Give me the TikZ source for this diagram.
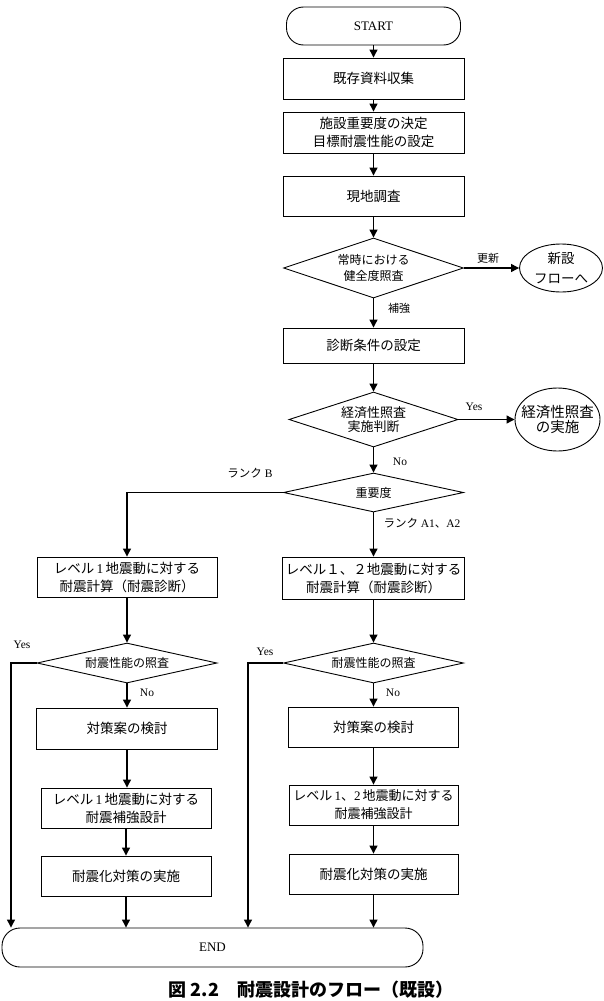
\documentclass[tikz,border=0pt]{standalone}
\usepackage{fontspec}
\setmainfont{Liberation Serif}
\newfontfamily\cjk{Noto Sans CJK JP}
\usetikzlibrary{shapes.geometric,arrows.meta}

\tikzset{
  box/.style={draw, line width=0.9pt, inner sep=0pt, align=center,
    font=\cjk\fontsize{13.5}{18}\selectfont},
  dia/.style={diamond, draw, line width=0.9pt, inner sep=0pt, align=center,
    font=\cjk\fontsize{12}{15.5}\selectfont},
  ell/.style={ellipse, draw, line width=0.9pt, inner sep=0pt, align=center,
    font=\cjk\fontsize{13.5}{20}\selectfont},
  term/.style={draw, rounded corners=17pt, line width=0.9pt, inner sep=0pt,
    font=\fontsize{13}{15}\selectfont},
  lbl/.style={inner sep=0pt, font=\fontsize{11.5}{13}\selectfont},
  jlbl/.style={inner sep=0pt, font=\cjk\fontsize{11}{13}\selectfont},
  arr/.style={line width=1.2pt, -{Triangle[length=8pt,width=8pt]}},
}

\begin{document}
\begin{tikzpicture}[x=1pt,y=-1pt]
\useasboundingbox (0,0) rectangle (603,1001);

% main column
\node[term, minimum width=174pt, minimum height=38pt] (start) at (373.5,26) {START};
\node[box, minimum width=181pt, minimum height=41pt] (b1) at (373.5,78.5) {既存資料収集};
\node[box, minimum width=181pt, minimum height=41pt] (b2) at (373.5,132.5) {施設重要度の決定\\目標耐震性能の設定};
\node[box, minimum width=181pt, minimum height=40pt] (b3) at (373.5,196) {現地調査};
\node[dia, minimum width=180pt, minimum height=60pt, aspect=3] (d1) at (373.5,268) {常時における\\健全度照査};
\node[ell, minimum width=83pt, minimum height=48pt] (e1) at (561,268) {\makebox[20pt]{新設}\\\makebox[20pt]{フローへ}};
\node[box, minimum width=181pt, minimum height=35pt] (b4) at (373.5,345.5) {診断条件の設定};
\node[dia, minimum width=169pt, minimum height=55pt, aspect=3.07,
  font=\cjk\fontsize{13}{13.5}\selectfont] (d2) at (373.5,419.5) {経済性照査\\実施判断};
\node[ell, minimum width=85pt, minimum height=63pt,
  font=\cjk\fontsize{14.5}{15}\selectfont] (e2) at (557.5,419.5) {\makebox[20pt]{経済性照査}\\\makebox[20pt]{の実施}};
\node[dia, minimum width=180pt, minimum height=39pt, aspect=4.6] (d3) at (373.5,492.5) {重要度};

% left column
\node[box, minimum width=180pt, minimum height=40pt] (l1) at (127,577) {レベル{\rmfamily\,1\,}地震動に対する\\耐震計算（耐震診断）};
\node[dia, minimum width=180pt, minimum height=40pt, aspect=4.5] (l2) at (127,663) {耐震性能の照査};
\node[box, minimum width=181pt, minimum height=41pt] (l3) at (127,728.5) {対策案の検討};
\node[box, minimum width=170pt, minimum height=40pt] (l4) at (126,808) {レベル{\rmfamily\,1\,}地震動に対する\\耐震補強設計};
\node[box, minimum width=170pt, minimum height=40pt] (l5) at (126,876) {耐震化対策の実施};

% right column
\node[box, minimum width=182pt, minimum height=42pt] (r1) at (373.5,578) {レベル１、２地震動に対する\\耐震計算（耐震診断）};
\node[dia, minimum width=180pt, minimum height=40pt, aspect=4.5] (r2) at (373.5,663) {耐震性能の照査};
\node[box, minimum width=170pt, minimum height=40pt] (r3) at (373.5,727) {対策案の検討};
\node[box, minimum width=169pt, minimum height=40pt,
  font=\cjk\fontsize{13}{18}\selectfont] (r4) at (373.5,805) {レベル{\rmfamily\,1}、{\rmfamily 2\,}地震動に対する\\耐震補強設計};
\node[box, minimum width=169pt, minimum height=40pt] (r5) at (373.5,874) {耐震化対策の実施};

% end
\node[term, rounded corners=18pt, minimum width=421pt, minimum height=39pt] (end) at (212.5,947.5) {END};

% labels
\node[jlbl] (t-kos) at (488,258) {更新};
\node[jlbl] (t-hok) at (399,308) {補強};
\node[lbl] (t-yes1) at (474,407) {Yes};
\node[lbl] (t-no1) at (400,462) {No};
\node[lbl] (t-rb) at (250,473) {{\cjk ランク} B};
\node[lbl] (t-ra) at (422,523) {{\cjk ランク} A1{\cjk 、}A2};
\node[lbl] (t-yes2) at (22,645) {Yes};
\node[lbl] (t-yes3) at (265,652) {Yes};
\node[lbl] (t-no2) at (147,693) {No};
\node[lbl] (t-no3) at (393,693) {No};

% caption
\node[inner sep=0pt, font=\cjk\bfseries\fontsize{18}{20}\selectfont] (cap) at (311,990) {図 2.2　耐震設計のフロー（既設）};

% bend columns
\coordinate (lx) at (11,0);
\coordinate (rx) at (248,0);

% connectors
\draw[arr] (start.south) -- (start.south |- b1.north);
\draw[arr] (b1.south) -- (b1.south |- b2.north);
\draw[arr] (b2.south) -- (b2.south |- b3.north);
\draw[arr] (b3.south) -- (b3.south |- d1.north);
\draw[arr] (d1.east) -- (e1.west);
\draw[arr] (d1.south) -- (d1.south |- b4.north);
\draw[arr] (b4.south) -- (b4.south |- d2.north);
\draw[arr] (d2.east) -- (e2.west);
\draw[arr] (d2.south) -- (d2.south |- d3.north);
\draw[arr] (d3.west) -| (l1.north);
\draw[arr] (d3.south) -- (d3.south |- r1.north);

\draw[arr] (l1.south) -- (l1.south |- l2.north);
\draw[arr] (l2.south) -- (l2.south |- l3.north);
\draw[arr] (l3.south) -- (l3.south |- l4.north);
\draw[arr] (l4.south) -- (l4.south |- l5.north);
\draw[arr] (l5.south) -- (l5.south |- end.north);
\draw[arr] (l2.west) -| (end.north -| lx);

\draw[arr] (r1.south) -- (r1.south |- r2.north);
\draw[arr] (r2.south) -- (r2.south |- r3.north);
\draw[arr] (r3.south) -- (r3.south |- r4.north);
\draw[arr] (r4.south) -- (r4.south |- r5.north);
\draw[arr] (r5.south) -- (r5.south |- end.north);
\draw[arr] (r2.west) -| (end.north -| rx);
\end{tikzpicture}
\end{document}
